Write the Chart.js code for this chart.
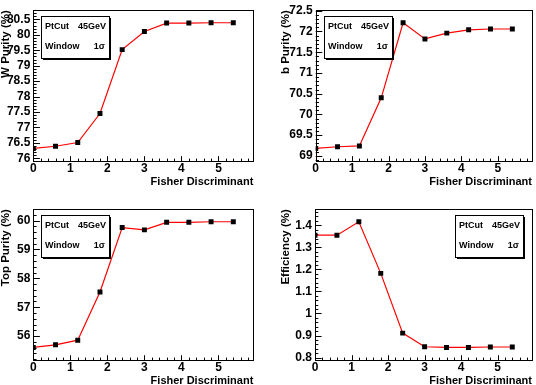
<!DOCTYPE html>
<html>
<head>
<meta charset="utf-8">
<script src="https://cdn.jsdelivr.net/npm/chart.js@4.4.1/dist/chart.umd.min.js"></script>
<style>
  html, body { margin: 0; padding: 0; background: #fff; overflow: hidden; width: 536px; height: 385px; }
  canvas { position: absolute; }
</style>
</head>
<body>
<canvas id="wPur" width="268" height="192" style="left:0;top:0"></canvas>
<canvas id="bPur" width="268" height="192" style="left:268px;top:0"></canvas>
<canvas id="tPur" width="268" height="192" style="left:0;top:199px"></canvas>
<canvas id="eff" width="268" height="192" style="left:268px;top:199px"></canvas>
<script>
// Fisher discriminant cut values (x)
const fisherCut = [0, 0.6, 1.2, 1.8, 2.4, 3.0, 3.6, 4.2, 4.8, 5.4];
// purities / efficiency
const wPurity = [76.32, 76.39, 76.51, 77.45, 79.52, 80.11, 80.38, 80.38, 80.39, 80.39];
const bPurity = [69.18, 69.22, 69.24, 70.40, 72.21, 71.82, 71.96, 72.04, 72.06, 72.06];
const topPurity = [55.61, 55.70, 55.86, 57.53, 59.76, 59.68, 59.94, 59.94, 59.96, 59.96];
const efficiency = [1.355, 1.355, 1.416, 1.182, 0.911, 0.849, 0.846, 0.846, 0.848, 0.848];
const xTitle = "Fisher Discriminant";
const boxLines = [["PtCut", "45GeV"], ["Window", "1\u03c3"]];

const FONT = "'Liberation Sans', Arial, Helvetica, sans-serif";

// ROOT-like frame, inward ticks and the info box
const rootStyle = {
  id: "rootStyle",
  beforeDatasetsDraw(chart, args, o) {
    const { ctx, chartArea: a, scales: { x, y } } = chart;
    ctx.save();
    ctx.strokeStyle = "#000";
    ctx.lineWidth = 1;
    ctx.strokeRect(Math.round(a.left) + 0.5, Math.round(a.top) + 0.5,
      Math.round(a.right - a.left), Math.round(a.bottom - a.top));
    ctx.beginPath();
    const xMaj = o.xStep, xMin = o.xStep / 5;
    for (let v = 0; v <= x.max + 1e-9; v += xMin) {
      const px = Math.round(x.getPixelForValue(v)) + 0.5;
      const major = Math.abs(v / xMaj - Math.round(v / xMaj)) < 1e-6;
      const len = major ? 4.8 : 2.4;
      ctx.moveTo(px, a.bottom);
      ctx.lineTo(px, a.bottom - len);
    }
    const yMaj = o.yStep, yMin = o.yStep / 5;
    const start = Math.ceil(y.min / yMin - 1e-6) * yMin;
    for (let v = start; v <= y.max + 1e-9; v += yMin) {
      const py = Math.round(y.getPixelForValue(v)) + 0.5;
      const major = Math.abs(v / yMaj - Math.round(v / yMaj)) < 1e-6;
      const len = major ? 6.6 : 3.3;
      ctx.moveTo(a.left, py);
      ctx.lineTo(a.left + len, py);
    }
    ctx.stroke();
    ctx.restore();
  },
  afterDatasetsDraw(chart, args, o) {
    const { ctx, chartArea: a } = chart;
    const w = 68, h = 42;
    const bx = o.boxRight ? Math.round(a.right - 8.7 - w) : Math.round(a.left + 8);
    const by = Math.round(a.top + 5.3);
    ctx.save();
    ctx.fillStyle = "#000";
    ctx.fillRect(bx + 2, by + 2, w, h);
    ctx.fillStyle = "#fff";
    ctx.fillRect(bx, by, w, h);
    ctx.strokeStyle = "#000";
    ctx.lineWidth = 1;
    ctx.strokeRect(bx + 0.5, by + 0.5, w, h);
    ctx.fillStyle = "#000";
    ctx.font = "bold 9px " + FONT;
    ctx.textBaseline = "middle";
    boxLines.forEach((ln, i) => {
      const ty = by + 11 + i * 20;
      ctx.textAlign = "left";
      ctx.fillText(ln[0], bx + 4, ty);
      ctx.textAlign = "right";
      ctx.fillText(ln[1], bx + w - 3 - i, ty);
    });
    ctx.restore();
  }
};

function fmt(v) {
  return String(Number(v.toFixed(3)));
}

function makeChart(id, values, o) {
  return new Chart(document.getElementById(id), {
    type: "line",
    data: {
      labels: fisherCut,
      datasets: [{
        data: fisherCut.map((c, i) => ({ x: c, y: values[i] })),
        borderColor: "rgb(255,0,0)",
        borderWidth: 1.2,
        tension: 0,
        pointStyle: "rect",
        pointRadius: 3.5,
        pointBorderWidth: 0,
        pointBackgroundColor: "#000",
        pointBorderColor: "#000"
      }]
    },
    options: {
      responsive: false,
      animation: false,
      events: [],
      layout: { padding: { top: 4, right: o.padRight, left: 0, bottom: 0 } },
      plugins: {
        legend: { display: false },
        tooltip: { enabled: false },
        rootStyle: { xStep: 1, yStep: o.yStep, boxRight: o.boxRight }
      },
      scales: {
        x: {
          type: "linear",
          min: 0,
          max: 5.94,
          grid: { display: false, drawTicks: false },
          border: { display: false },
          afterFit(s) { s.height = 31; },
          ticks: {
            stepSize: 1,
            includeBounds: false,
            autoSkip: false,
            maxRotation: 0,
            padding: 0,
            color: "#000",
            font: { family: FONT, size: 12, weight: "bold" },
            callback: v => fmt(v)
          },
          title: {
            display: true,
            text: xTitle,
            align: "end",
            color: "#000",
            padding: { top: 0, bottom: 4.8 },
            font: { family: FONT, size: 11, weight: "bold", lineHeight: 1 }
          }
        },
        y: {
          min: o.yMin,
          max: o.yMax,
          grid: { display: false, drawTicks: false },
          border: { display: false },
          afterFit(s) { s.width = o.axisW; },
          ticks: {
            stepSize: o.yStep,
            includeBounds: false,
            autoSkip: false,
            padding: 3,
            color: "#000",
            font: { family: FONT, size: 12, weight: "bold" },
            callback: v => fmt(v)
          },
          title: {
            display: true,
            text: o.yTitle,
            align: "end",
            color: "#000",
            padding: { top: o.titlePad, bottom: 0 },
            font: { family: FONT, size: 11.5, weight: "bold", lineHeight: 1 }
          }
        }
      }
    },
    plugins: [rootStyle]
  });
}

makeChart("wPur", wPurity, { yMin: 75.913, yMax: 80.797, yStep: 0.5, yTitle: "W Purity (%)", axisW: 33.3, padRight: 14.7, titlePad: 0, boxRight: false });
makeChart("bPur", bPurity, { yMin: 68.877, yMax: 72.513, yStep: 0.5, yTitle: "b Purity (%)", axisW: 47.7, padRight: 2, titlePad: 12.3, boxRight: false });
makeChart("tPur", topPurity, { yMin: 55.175, yMax: 60.395, yStep: 1, yTitle: "Top Purity (%)", axisW: 33.3, padRight: 14.7, titlePad: 0, boxRight: false });
makeChart("eff", efficiency, { yMin: 0.789, yMax: 1.473, yStep: 0.1, yTitle: "Efficiency (%)", axisW: 47, padRight: 2, titlePad: 12.3, boxRight: true });
</script>
</body>
</html>
